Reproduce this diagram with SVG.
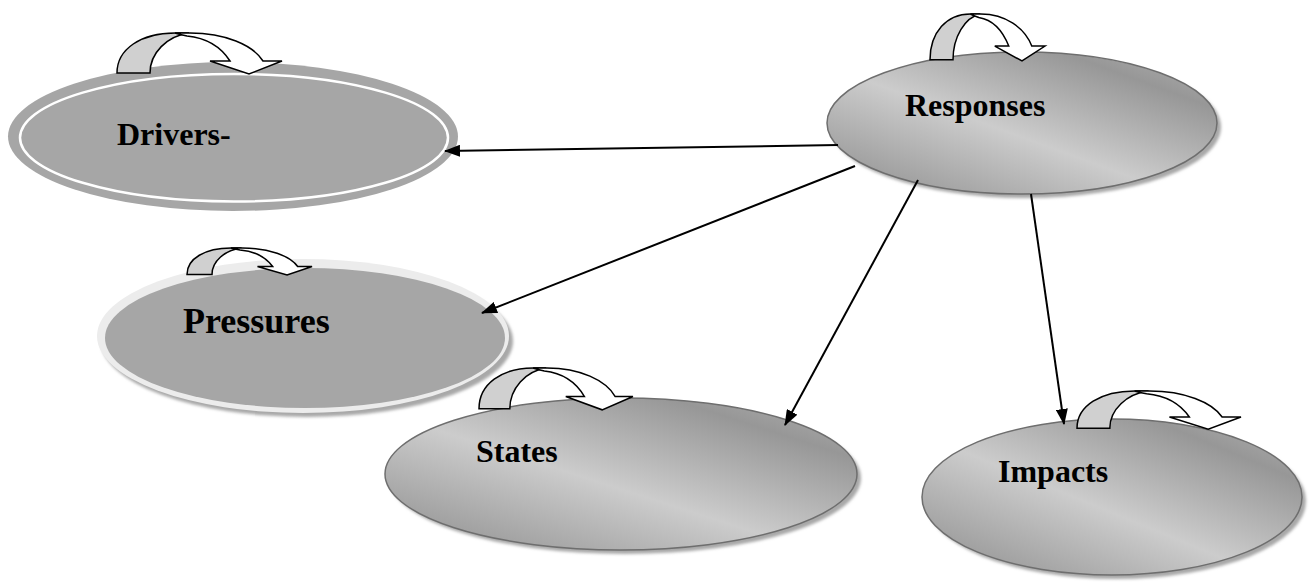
<svg xmlns="http://www.w3.org/2000/svg" xmlns:xlink="http://www.w3.org/1999/xlink" width="1310" height="582" viewBox="0 0 1310 582">
  <style>
    .lbl { font-family: "Liberation Serif", "Times New Roman", serif; font-weight: bold; font-size: 32px; fill: #000; }
    .conn { stroke: #000; stroke-width: 2; fill: none; marker-end: url(#ah); }
    .curl-g { fill: #d0d0d0; stroke: #000; stroke-width: 1.5; vector-effect: non-scaling-stroke; stroke-linejoin: miter; }
    .curl-w { fill: #fff; stroke: #000; stroke-width: 1.5; vector-effect: non-scaling-stroke; stroke-linejoin: miter; }
    .shade { fill: url(#gr); stroke: #6e6e6e; stroke-width: 1.5; }
    .shadow { fill: #a8a8a8; filter: url(#blur); }
  </style>
  <defs>
    <linearGradient id="gr" x1="0" y1="1" x2="1" y2="0">
      <stop offset="0" stop-color="#8c8c8c"/>
      <stop offset="0.45" stop-color="#cccccc"/>
      <stop offset="0.8" stop-color="#979797"/>
      <stop offset="1" stop-color="#b4b4b4"/>
    </linearGradient>
    <filter id="blur" x="-10%" y="-10%" width="120%" height="120%">
      <feGaussianBlur stdDeviation="1.5"/>
    </filter>
    <marker id="ah" viewBox="0 0 16 12" refX="15" refY="6" markerWidth="16" markerHeight="12" markerUnits="userSpaceOnUse" orient="auto">
      <path d="M0,0 L16,6 L0,12 Z" fill="#000"/>
    </marker>
    <g id="curl">
      <path class="curl-g" d="M0,40 C0,16 24,0 58,0 L72,0 C50,3 33,20 33,40 Z"/>
      <path class="curl-w" d="M58,0 L73,0 C108,0 136,12 146,28 L165,28 L132,41 L93,28 L113,28 C104,14 90,5 70,3 C65,2 61,1 58,0 Z"/>
    </g>
  </defs>
  <rect width="1310" height="582" fill="#fff"/>

  <g id="drivers">
    <ellipse cx="233" cy="136.5" rx="225" ry="74.5" fill="#a6a6a6"/>
    <ellipse cx="234" cy="137.7" rx="214" ry="63.8" fill="#a6a6a6" stroke="#fff" stroke-width="2.5"/>
    <use xlink:href="#curl" transform="translate(117,33)"/>
    <text class="lbl" x="117" y="145">Drivers-</text>
  </g>

  <g id="pressures">
    <ellipse class="shadow" cx="307" cy="341" rx="206" ry="76"/>
    <ellipse cx="303" cy="336" rx="206" ry="77" fill="#ececec"/>
    <ellipse cx="305" cy="338" rx="200" ry="70" fill="#a6a6a6"/>
    <use xlink:href="#curl" transform="translate(187,248) scale(0.758,0.66)"/>
    <text class="lbl" x="183" y="333" style="font-size:36px">Pressures</text>
  </g>

  <g id="responses">
    <ellipse class="shadow" cx="1026" cy="127" rx="195" ry="71"/>
    <ellipse class="shade" cx="1022" cy="123" rx="195" ry="71"/>
    <use xlink:href="#curl" transform="translate(930,14) scale(0.697,1.146)"/>
    <text class="lbl" x="905" y="116">Responses</text>
  </g>

  <g id="states">
    <ellipse class="shadow" cx="625" cy="478" rx="236" ry="76"/>
    <ellipse class="shade" cx="621" cy="474" rx="236" ry="76"/>
    <use xlink:href="#curl" transform="translate(479,368) scale(0.933,1.02)"/>
    <text class="lbl" x="476" y="462">States</text>
  </g>

  <g id="impacts">
    <ellipse class="shadow" cx="1116" cy="501" rx="190" ry="78"/>
    <ellipse class="shade" cx="1112" cy="497" rx="190" ry="78"/>
    <use xlink:href="#curl" transform="translate(1077,391) scale(0.994,0.93)"/>
    <text class="lbl" x="998" y="482">Impacts</text>
  </g>

  <g id="connectors">
    <line class="conn" x1="838" y1="145" x2="445" y2="151"/>
    <line class="conn" x1="855" y1="166" x2="482" y2="313"/>
    <line class="conn" x1="918" y1="180" x2="785" y2="425"/>
    <line class="conn" x1="1031" y1="194" x2="1064" y2="424"/>
  </g>
</svg>
